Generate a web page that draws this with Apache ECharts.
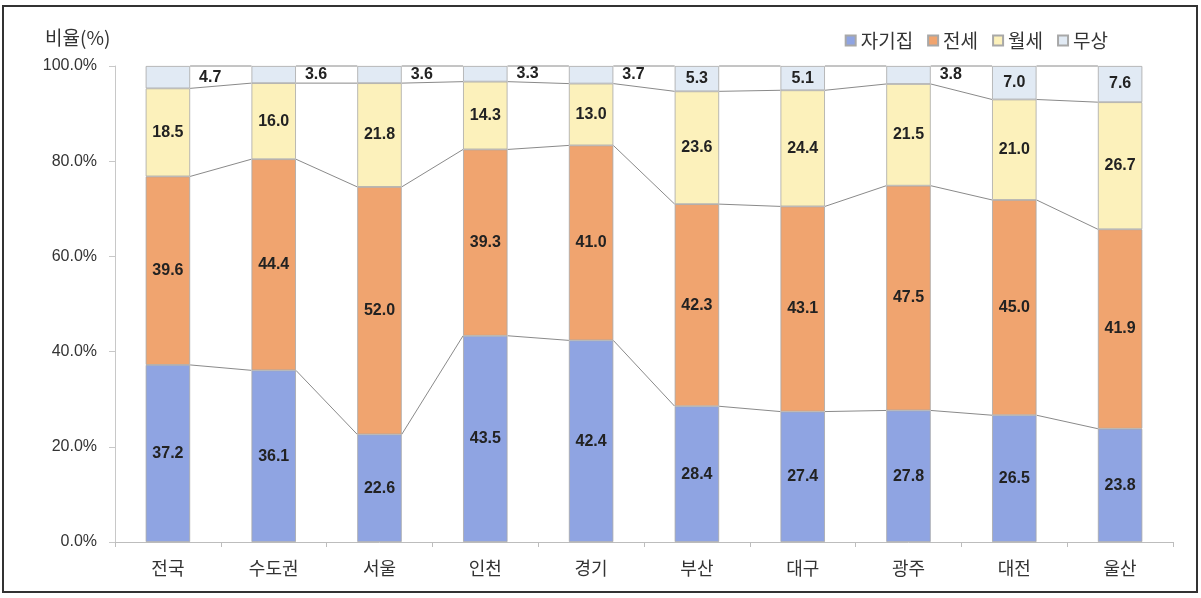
<!DOCTYPE html>
<html>
<head>
<meta charset="utf-8">
<script src="https://cdn.jsdelivr.net/npm/echarts@6/dist/echarts.min.js"></script>
<style>
html,body{margin:0;padding:0;background:#fff;}
#c{width:1201px;height:598px;}
</style>
</head>
<body>
<div id="c"></div>
<script>
var categories = ['전국','수도권','서울','인천','경기','부산','대구','광주','대전','울산'];
var seriesNames = ['자기집','전세','월세','무상'];
var own     = [37.2, 36.1, 22.6, 43.5, 42.4, 28.4, 27.4, 27.8, 26.5, 23.8];
var jeonse  = [39.6, 44.4, 52.0, 39.3, 41.0, 42.3, 43.1, 47.5, 45.0, 41.9];
var monthly = [18.5, 16.0, 21.8, 14.3, 13.0, 23.6, 24.4, 21.5, 21.0, 26.7];
var free    = [4.7, 3.6, 3.6, 3.3, 3.7, 5.3, 5.1, 3.8, 7.0, 7.6];
var freeLabelOutside = [true, true, true, true, true, false, false, true, false, false];
var yTicks = [0, 20, 40, 60, 80, 100];

var raw = [own, jeonse, monthly, free];
var colors = ['#8fa4e2', '#f0a46f', '#fcf1bb', '#e1eaf4'];
var FONT = 'Liberation Sans, Arial, Noto Sans CJK KR, sans-serif';
var KFONT = 'Noto Sans CJK KR, sans-serif';

// 100% stacked: normalise each column to 100 (as the source chart does)
var totals = categories.map(function(_, i){ return raw.reduce(function(s, a){ return s + a[i]; }, 0); });
var norm = raw.map(function(a){ return a.map(function(v, i){ return v / totals[i] * 100; }); });
// cumulative tops for series lines
var cum = norm.map(function(_, k){
  return categories.map(function(_, i){
    var s = 0; for (var j = 0; j <= k; j++) s += norm[j][i]; return s;
  });
});
var lineData = [];
for (var i = 0; i < categories.length - 1; i++) {
  var row = [i];
  for (var k = 0; k < cum.length; k++) { row.push(cum[k][i], cum[k][i+1]); }
  lineData.push(row);
}

var labelStyle = {fontFamily: FONT, fontSize: 16, fontWeight: 'bold', color: '#222'};

var series = seriesNames.map(function(name, k){
  return {
    name: name,
    type: 'bar',
    stack: 'total',
    barWidth: '42%',
    itemStyle: {color: colors[k], borderColor: '#a8a8a8', borderWidth: 0.8},
    label: Object.assign({show: true, position: 'inside'}, labelStyle, {
      formatter: function(p){ return raw[k][p.dataIndex].toFixed(1); }
    }),
    data: norm[k].map(function(v, i){
      var d = {value: v};
      if (k === 3 && freeLabelOutside[i]) {
        d.label = {position: 'right', distance: 9};
      }
      return d;
    }),
    z: 2
  };
});

series.push({
  type: 'custom',
  name: 'lines',
  silent: true,
  z: 3,
  encode: {x: 0, y: 1},
  data: lineData,
  renderItem: function(params, api){
    var i = api.value(0);
    var half = api.size([1, 0])[0] * 0.42 / 2;
    var children = [];
    for (var k = 0; k < 4; k++) {
      var a = api.coord([i, api.value(1 + 2*k)]);
      var b = api.coord([i + 1, api.value(2 + 2*k)]);
      children.push({
        type: 'line',
        shape: {x1: a[0] + half, y1: a[1], x2: b[0] - half, y2: b[1]},
        style: {stroke: '#8a8a8a', lineWidth: 1}
      });
    }
    return {type: 'group', children: children};
  }
});

var chart = echarts.init(document.getElementById('c'), null, {renderer: 'canvas'});
chart.setOption({
  backgroundColor: '#fff',
  animation: false,
  grid: {left: 115, right: 28, top: 66, bottom: 56},
  legend: {
    data: seriesNames,
    right: 88, top: 26,
    icon: 'rect', itemWidth: 10, itemHeight: 10, itemGap: 14,
    textStyle: {fontFamily: KFONT, fontSize: 19, color: '#333'}
  },
  xAxis: {
    type: 'category',
    data: categories,
    axisLine: {lineStyle: {color: '#bdbdbd'}},
    axisTick: {show: true, length: 5, lineStyle: {color: '#bdbdbd'}},
    axisLabel: {fontFamily: KFONT, fontSize: 18, color: '#333', margin: 17}
  },
  yAxis: {
    type: 'value',
    min: yTicks[0], max: yTicks[yTicks.length-1], interval: 20,
    axisLine: {show: true, lineStyle: {color: '#c8c8c8'}},
    axisTick: {show: true, length: 6, lineStyle: {color: '#c8c8c8'}},
    splitLine: {show: false},
    axisLabel: {fontFamily: FONT, fontSize: 16, color: '#333', margin: 18,
      formatter: function(v){ return v.toFixed(1) + '%'; }}
  },
  graphic: [
    {type: 'text', left: 45, top: 28, style: {text: '비율(%)', font: '19px ' + KFONT, fill: '#333'}},
    {type: 'rect', shape: {x: 3, y: 6, width: 1194, height: 586}, style: {fill: 'none', stroke: '#333', lineWidth: 2}, silent: true}
  ],
  series: series
});
</script>
</body>
</html>
